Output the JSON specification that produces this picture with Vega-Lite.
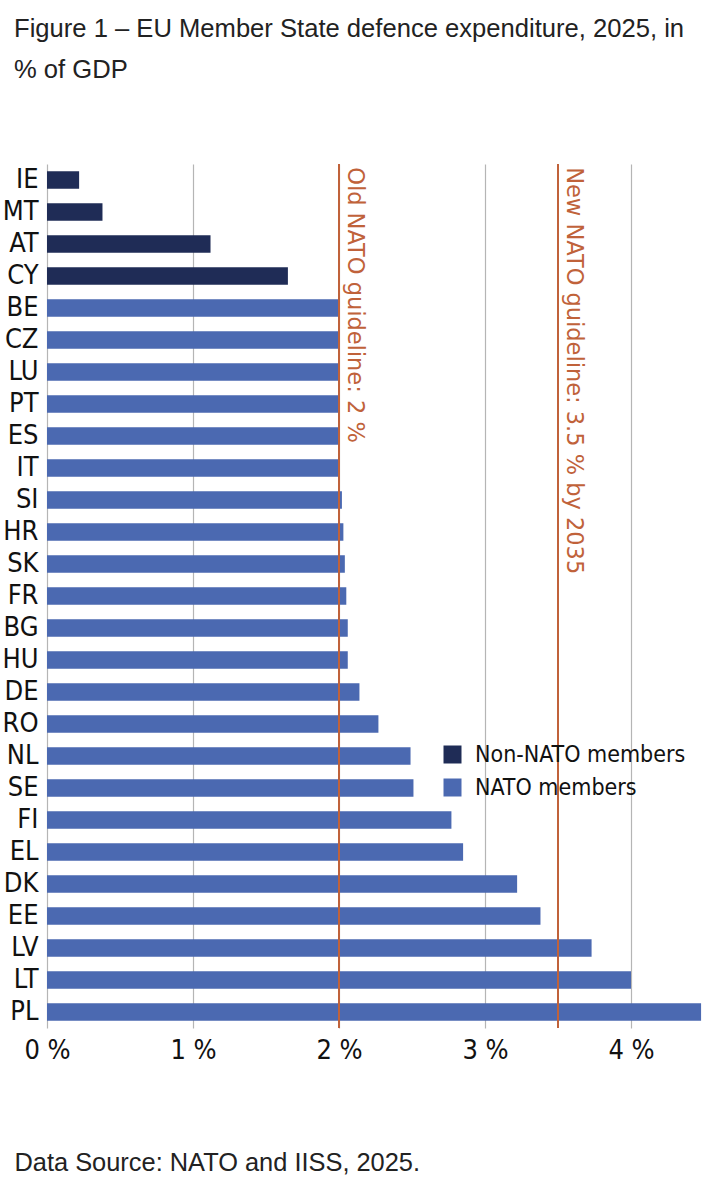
{
  "$schema": "https://vega.github.io/schema/vega-lite/v6.json",
  "width": 657,
  "height": 864,
  "autosize": {"type": "none"},
  "padding": {"left": 47, "top": 164, "right": 8, "bottom": 172},
  "background": "white",
  "title": {
    "text": ["Figure 1 – EU Member State defence expenditure, 2025, in", "% of GDP"],
    "font": "Liberation Sans",
    "fontSize": 25.6,
    "fontWeight": "normal",
    "color": "#222222",
    "anchor": "start",
    "frame": "group",
    "dx": -33,
    "lineHeight": 41,
    "offset": 79
  },
  "config": {
    "view": {"stroke": null},
    "font": "DejaVu Sans Condensed, Liberation Sans"
  },
  "datasets": {
    "spend": [
      {"country": "IE", "pct": 0.22, "group": "Non-NATO members"},
      {"country": "MT", "pct": 0.38, "group": "Non-NATO members"},
      {"country": "AT", "pct": 1.12, "group": "Non-NATO members"},
      {"country": "CY", "pct": 1.65, "group": "Non-NATO members"},
      {"country": "BE", "pct": 2.0, "group": "NATO members"},
      {"country": "CZ", "pct": 2.0, "group": "NATO members"},
      {"country": "LU", "pct": 2.0, "group": "NATO members"},
      {"country": "PT", "pct": 2.0, "group": "NATO members"},
      {"country": "ES", "pct": 2.0, "group": "NATO members"},
      {"country": "IT", "pct": 2.0, "group": "NATO members"},
      {"country": "SI", "pct": 2.02, "group": "NATO members"},
      {"country": "HR", "pct": 2.03, "group": "NATO members"},
      {"country": "SK", "pct": 2.04, "group": "NATO members"},
      {"country": "FR", "pct": 2.05, "group": "NATO members"},
      {"country": "BG", "pct": 2.06, "group": "NATO members"},
      {"country": "HU", "pct": 2.06, "group": "NATO members"},
      {"country": "DE", "pct": 2.14, "group": "NATO members"},
      {"country": "RO", "pct": 2.27, "group": "NATO members"},
      {"country": "NL", "pct": 2.49, "group": "NATO members"},
      {"country": "SE", "pct": 2.51, "group": "NATO members"},
      {"country": "FI", "pct": 2.77, "group": "NATO members"},
      {"country": "EL", "pct": 2.85, "group": "NATO members"},
      {"country": "DK", "pct": 3.22, "group": "NATO members"},
      {"country": "EE", "pct": 3.38, "group": "NATO members"},
      {"country": "LV", "pct": 3.73, "group": "NATO members"},
      {"country": "LT", "pct": 4.0, "group": "NATO members"},
      {"country": "PL", "pct": 4.48, "group": "NATO members"}
    ],
    "guides": [
      {"country": "IE", "pct": 2.0, "label": "Old NATO guideline: 2 %"},
      {"country": "IE", "pct": 3.5, "label": "New NATO guideline: 3.5 % by 2035"}
    ]
  },
  "layer": [
    {
      "data": {"name": "spend"},
      "mark": {"type": "bar"},
      "encoding": {
        "y": {
          "field": "country",
          "type": "nominal",
          "scale": {
            "domain": ["IE", "MT", "AT", "CY", "BE", "CZ", "LU", "PT", "ES", "IT", "SI", "HR", "SK", "FR", "BG", "HU", "DE", "RO", "NL", "SE", "FI", "EL", "DK", "EE", "LV", "LT", "PL"],
            "paddingInner": 0.45,
            "paddingOuter": 0.225
          },
          "axis": {
            "title": null,
            "domain": false,
            "ticks": false,
            "labelFontSize": 27,
            "labelColor": "#111111",
            "labelPadding": 9
          }
        },
        "x": {
          "field": "pct",
          "type": "quantitative",
          "scale": {"domain": [0, 4.5], "nice": false, "zero": true},
          "axis": {
            "values": [0, 1, 2, 3, 4],
            "labelExpr": "datum.value + ' %'",
            "domain": false,
            "ticks": false,
            "grid": true,
            "gridColor": "#b5b5b5",
            "gridWidth": 1.2,
            "labelFontSize": 27,
            "labelColor": "#111111",
            "labelPadding": 9,
            "labelFlush": false,
            "title": "Data Source: NATO and IISS, 2025.",
            "titleFont": "Liberation Sans",
            "titleFontSize": 25.4,
            "titleFontWeight": "normal",
            "titleColor": "#222222",
            "titleAnchor": "start",
            "titleAlign": "left",
            "titleBaseline": "alphabetic",
            "titleX": -33,
            "titleY": 142
          }
        },
        "color": {
          "field": "group",
          "type": "nominal",
          "scale": {
            "domain": ["Non-NATO members", "NATO members"],
            "range": ["#1f2c56", "#4b69b1"]
          },
          "legend": {
            "orient": "none",
            "legendX": 394,
            "legendY": 579,
            "title": null,
            "padding": 0,
            "symbolType": "square",
            "symbolSize": 324,
            "symbolStrokeWidth": 0,
            "labelFontSize": 23,
            "labelColor": "#111111",
            "labelOffset": 11,
            "labelLimit": 300,
            "rowPadding": 9
          }
        }
      }
    },
    {
      "data": {"name": "guides"},
      "mark": {"type": "rule", "color": "#c0623a", "strokeWidth": 2},
      "encoding": {
        "x": {"field": "pct", "type": "quantitative"}
      }
    },
    {
      "data": {"name": "guides"},
      "mark": {
        "type": "text",
        "angle": 90,
        "align": "left",
        "baseline": "middle",
        "dx": -4,
        "dy": -16,
        "font": "DejaVu Sans",
        "fontSize": 22.5,
        "color": "#c0623a"
      },
      "encoding": {
        "x": {"field": "pct", "type": "quantitative"},
        "y": {"field": "country", "type": "nominal", "bandPosition": 0},
        "text": {"field": "label"}
      }
    }
  ]
}
